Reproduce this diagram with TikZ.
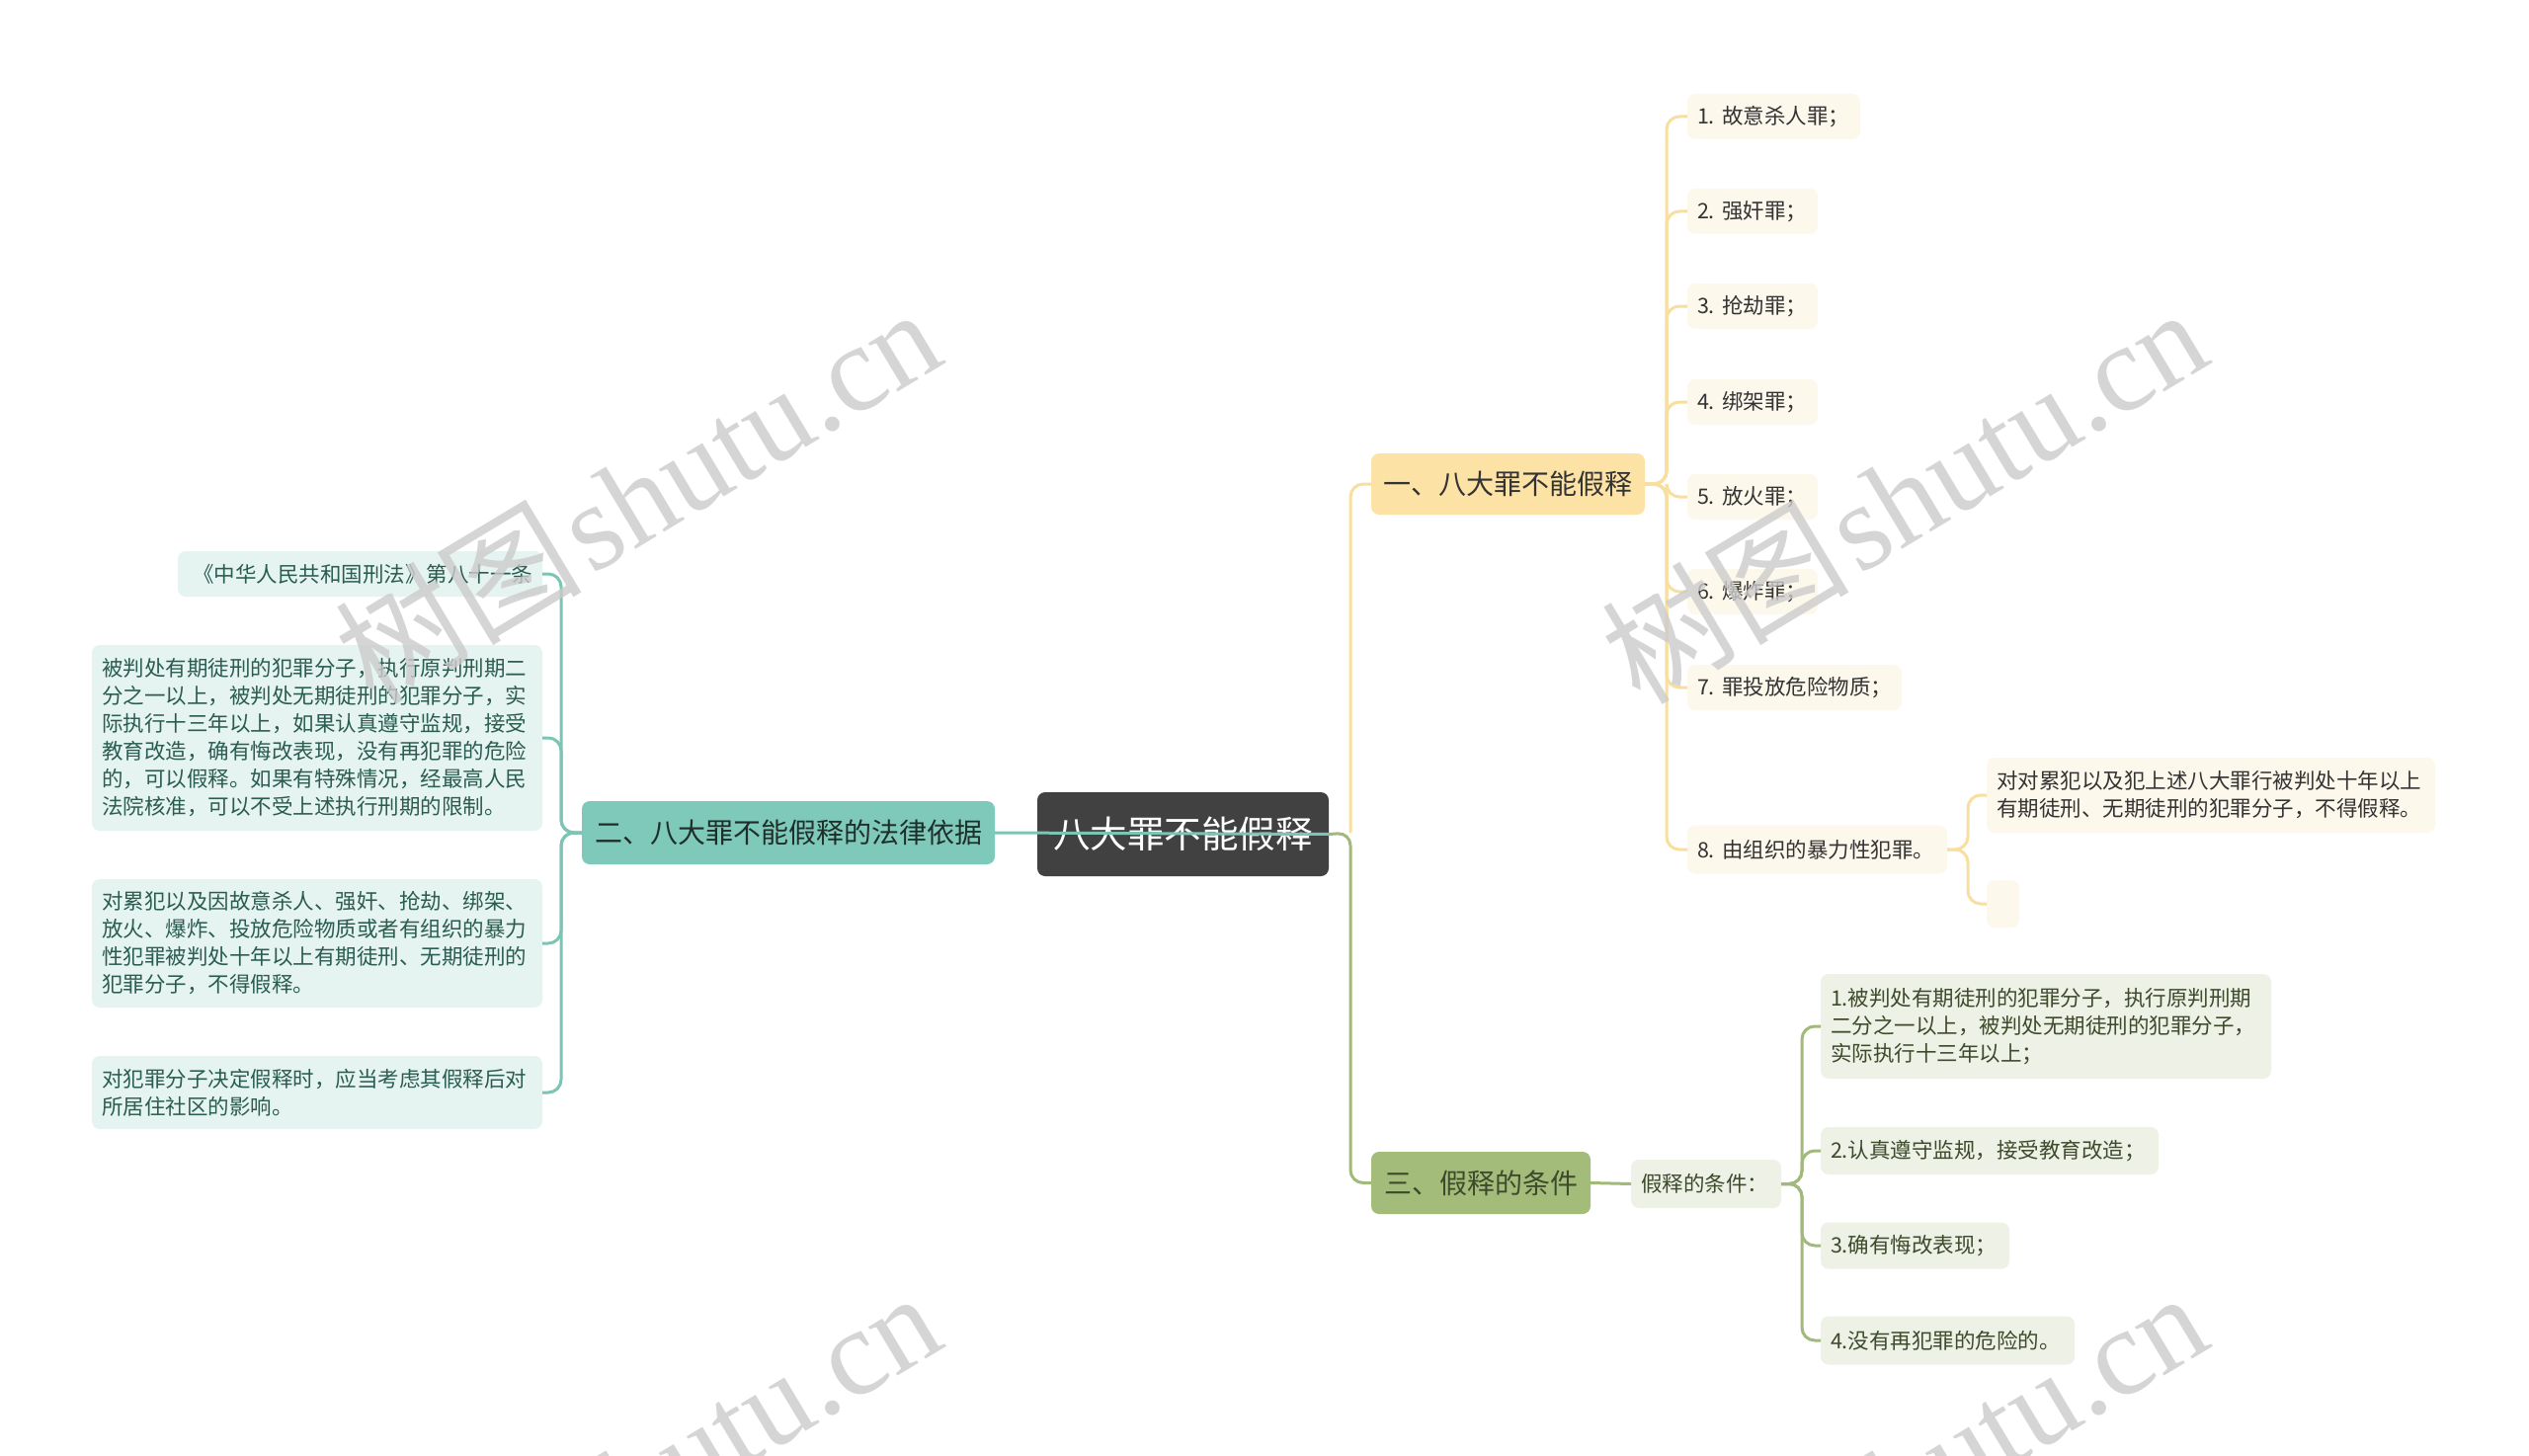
\documentclass[tikz,border=0pt]{standalone}
\usepackage{fontspec}
\setmainfont{Noto Sans CJK SC}
\newfontfamily\wmlatin{Liberation Serif}
\definecolor{rootbg}{HTML}{414141}
\definecolor{tealln}{HTML}{7CC5B5}
\definecolor{tealmn}{HTML}{7FC9BA}
\definecolor{tealbg}{HTML}{E5F4F0}
\definecolor{tealtx}{HTML}{2A5C50}
\definecolor{tealmt}{HTML}{1E2F2B}
\definecolor{yelln}{HTML}{F8DFA0}
\definecolor{yelmn}{HTML}{FDE2A6}
\definecolor{yelbg}{HTML}{FDF8EC}
\definecolor{yeltx}{HTML}{333333}
\definecolor{olvln}{HTML}{A2B97C}
\definecolor{olvmn}{HTML}{A3BC79}
\definecolor{olvbg}{HTML}{EEF1E5}
\definecolor{olvtx}{HTML}{3D4A2C}
\definecolor{wmgray}{HTML}{CBCBCB}
\begin{document}
\begin{tikzpicture}[x=1pt,y=-1pt,
  nodebase/.style={rounded corners=8pt, inner xsep=10pt, inner ysep=0pt, outer sep=0pt},
  smalltxt/.style={font=\fontsize{21.5}{28}\selectfont},
  bigtxt/.style={font=\fontsize{28}{34}\selectfont},
  rootnode/.style={nodebase, fill=rootbg, text=white, font=\fontsize{37.5}{45}\selectfont},
  tealmain/.style={nodebase, bigtxt, fill=tealmn, text=tealmt},
  tealleaf/.style={nodebase, smalltxt, fill=tealbg, text=tealtx, align=left},
  yelmain/.style={nodebase, bigtxt, fill=yelmn, text=yeltx},
  yelleaf/.style={nodebase, smalltxt, fill=yelbg, text=yeltx, align=left, anchor=west, minimum height=46pt},
  olvmain/.style={nodebase, bigtxt, fill=olvmn, text=olvtx},
  olvleaf/.style={nodebase, smalltxt, fill=olvbg, text=olvtx, align=left},
  tline/.style={draw=tealln, line width=3pt, rounded corners=13pt},
  yline/.style={draw=yelln, line width=3pt, rounded corners=13pt},
  oline/.style={draw=olvln, line width=3pt, rounded corners=13pt},
  wm/.style={text=wmgray, opacity=0.8, rotate=31, inner sep=0pt}
]
\useasboundingbox (0,0) rectangle (2560,1474);
\clip (0,0) rectangle (2560,1474);
\fill[white] (0,0) rectangle (2560,1474);

% root and main branches
\node[rootnode, minimum width=295pt, minimum height=85pt] (root) at (1197.5,844.5) {八大罪不能假释};
\node[tealmain, minimum width=418pt, minimum height=64pt] (b2) at (798,843) {二、八大罪不能假释的法律依据};
\node[yelmain, minimum width=277pt, minimum height=62pt] (b1) at (1526.5,490) {一、八大罪不能假释};
\node[olvmain, minimum width=222pt, minimum height=63pt] (b3) at (1499,1197.5) {三、假释的条件};

% left leaves
\node[tealleaf, align=right, text width=349pt, minimum height=46pt] (l1) at (364.5,581) {《中华人民共和国刑法》第八十一条};
\node[tealleaf, text width=436pt, minimum height=188pt] (l2) at (321,747) {被判处有期徒刑的犯罪分子，执行原判刑期二\\分之一以上，被判处无期徒刑的犯罪分子，实\\际执行十三年以上，如果认真遵守监规，接受\\教育改造，确有悔改表现，没有再犯罪的危险\\的，可以假释。如果有特殊情况，经最高人民\\法院核准，可以不受上述执行刑期的限制。};
\node[tealleaf, text width=436pt, minimum height=130pt] (l3) at (321,955) {对累犯以及因故意杀人、强奸、抢劫、绑架、\\放火、爆炸、投放危险物质或者有组织的暴力\\性犯罪被判处十年以上有期徒刑、无期徒刑的\\犯罪分子，不得假释。};
\node[tealleaf, text width=436pt, minimum height=74pt] (l4) at (321,1106) {对犯罪分子决定假释时，应当考虑其假释后对\\所居住社区的影响。};

% yellow leaves
\node[yelleaf, text width=155pt] (r1) at (1708,118) {\mbox{1.~故意杀人罪；}};
\node[yelleaf, text width=112pt] (r2) at (1708,214) {\mbox{2.~强奸罪；}};
\node[yelleaf, text width=112pt] (r3) at (1708,310) {\mbox{3.~抢劫罪；}};
\node[yelleaf, text width=112pt] (r4) at (1708,407) {\mbox{4.~绑架罪；}};
\node[yelleaf, text width=112pt] (r5) at (1708,503) {\mbox{5.~放火罪；}};
\node[yelleaf, text width=112pt] (r6) at (1708,599) {\mbox{6.~爆炸罪；}};
\node[yelleaf, text width=197pt] (r7) at (1708,696) {\mbox{7.~罪投放危险物质；}};
\node[yelleaf, text width=243pt, minimum height=49pt] (r8) at (1708,860) {\mbox{8.~由组织的暴力性犯罪。}};
\node[yelleaf, anchor=center, text width=434pt, minimum height=76pt] (r8a) at (2238,805) {对对累犯以及犯上述八大罪行被判处十年以上\\有期徒刑、无期徒刑的犯罪分子，不得假释。};
\node[nodebase, fill=yelbg, inner xsep=0pt, minimum width=33pt, minimum height=48pt] (r8b) at (2027.5,915) {};

% olive leaves
\node[olvleaf, text width=132pt, minimum height=49pt] (k) at (1727,1198.5) {假释的条件：};
\node[olvleaf, text width=436pt, minimum height=106pt] (c1) at (2071,1039) {1.被判处有期徒刑的犯罪分子，执行原判刑期\\二分之一以上，被判处无期徒刑的犯罪分子，\\实际执行十三年以上；};
\node[olvleaf, anchor=west, text width=322pt, minimum height=48pt] (c2) at (1843,1165) {2.认真遵守监规，接受教育改造；};
\node[olvleaf, anchor=west, text width=171pt, minimum height=47pt] (c3) at (1843,1261) {3.确有悔改表现；};
\node[olvleaf, anchor=west, text width=237pt, minimum height=49pt] (c4) at (1843,1357) {4.没有再犯罪的危险的。};

% junctions
\coordinate (jL) at (568,843);
\coordinate (jR) at (1367,843);
\coordinate (j1) at (1687,490);
\coordinate (j8) at (1992,860);
\coordinate (jk) at (1824,1198.5);

% left connectors
\foreach \n in {l1,l2,l3,l4} {\draw[tline] (b2.west) -- (jL) |- (\n.east);}
\draw[tline] (b2.east) -- (root.east);

% right connectors
\draw[yline] (jR) |- (b1.west);
\draw[oline] (root.east) -- (jR) |- (b3.west);
\foreach \n in {r1,r2,r3,r4,r5,r6,r7,r8} {\draw[yline] (b1.east) -- (j1) |- (\n.west);}
\draw[yline] (r8.east) -- (j8) |- (r8a.west);
\draw[yline] (r8.east) -- (j8) |- (r8b.west);
\draw[oline] (b3.east) -- (k.west);
\foreach \n in {c1,c2,c3,c4} {\draw[oline] (k.east) -- (jk) |- (\n.west);}

% watermarks
\foreach \p in {(645,500),(1927,500),(645,1496),(1927,1496)} {
  \node[wm] at \p {\fontsize{125}{125}\selectfont 树图\hspace{8pt}{\wmlatin shutu.cn}};
}
\end{tikzpicture}
\end{document}
